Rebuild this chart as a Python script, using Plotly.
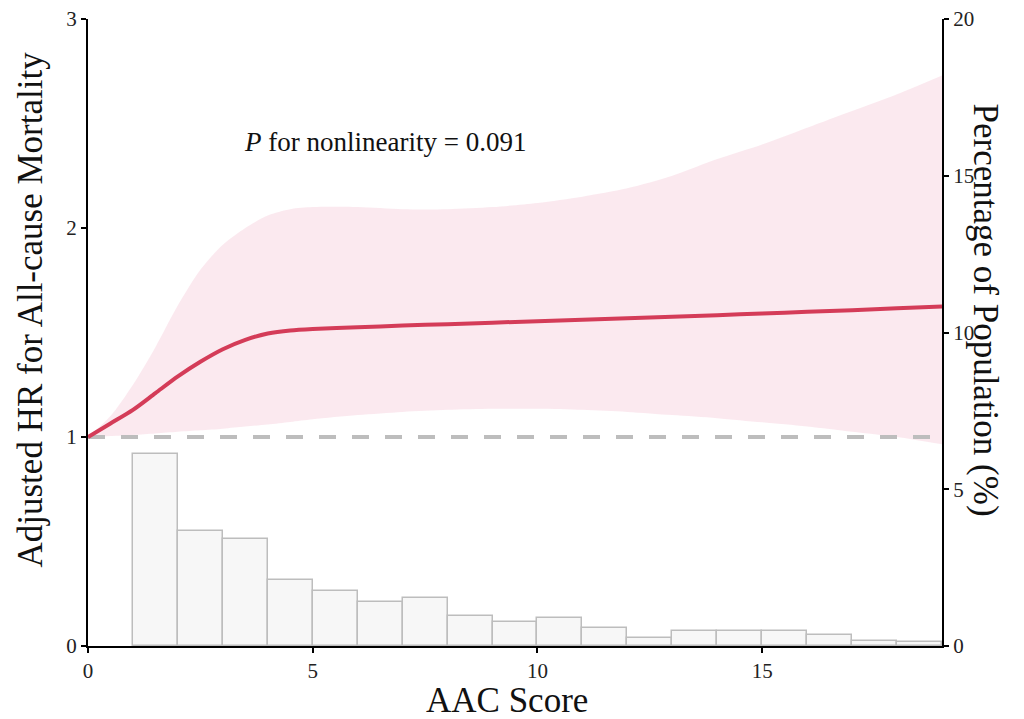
import plotly.graph_objects as go

# ---- data ----
aac = [0, 0.5, 1, 1.5, 2, 2.5, 3, 3.5, 4, 4.5, 5, 6, 7, 8, 9, 10, 11, 12, 13, 14, 15, 16, 17, 18, 19]
hr = [1.0, 1.065, 1.13, 1.21, 1.29, 1.36, 1.42, 1.465, 1.495, 1.51, 1.517, 1.525, 1.533, 1.54,
      1.547, 1.554, 1.561, 1.568, 1.575, 1.583, 1.591, 1.599, 1.607, 1.616, 1.625]
hr_upper = [1.0, 1.10, 1.25, 1.43, 1.63, 1.80, 1.92, 2.0, 2.06, 2.09, 2.10, 2.10, 2.09, 2.09,
            2.10, 2.12, 2.15, 2.19, 2.25, 2.33, 2.40, 2.48, 2.56, 2.64, 2.73]
hr_lower = [1.0, 1.005, 1.01, 1.017, 1.025, 1.032, 1.04, 1.05, 1.06, 1.072, 1.085, 1.105, 1.12, 1.13,
            1.135, 1.135, 1.13, 1.12, 1.105, 1.09, 1.07, 1.05, 1.025, 1.0, 0.965]

bin_centers = [1.5, 2.5, 3.5, 4.5, 5.5, 6.5, 7.5, 8.5, 9.5, 10.5, 11.5, 12.5, 13.5, 14.5,
               15.5, 16.5, 17.5, 18.5]
pct_population = [6.12, 3.66, 3.41, 2.10, 1.77, 1.40, 1.52, 0.97, 0.78, 0.90, 0.56, 0.27,
                  0.47, 0.47, 0.49, 0.35, 0.16, 0.13]

x_ticks = [0, 5, 10, 15]
y_ticks = [0, 1, 2, 3]
y2_ticks = [0, 5, 10, 15, 20]

FONT = "Liberation Serif"
LINE_RED = "#D43C58"
FILL_PINK = "rgba(248, 215, 225, 0.55)"
TITLE_SIZE = 35

fig = go.Figure()

# confidence band: lower bound then upper bound filled to it
fig.add_trace(go.Scatter(
    x=aac, y=hr_lower, mode="lines",
    line=dict(width=0, shape="spline", smoothing=0.8),
    hoverinfo="skip", showlegend=False))
fig.add_trace(go.Scatter(
    x=aac, y=hr_upper, mode="lines", fill="tonexty", fillcolor=FILL_PINK,
    line=dict(width=0, shape="spline", smoothing=0.8),
    hoverinfo="skip", showlegend=False))

# reference line HR = 1
fig.add_trace(go.Scatter(
    x=[0, 19], y=[1, 1], mode="lines",
    line=dict(color="#BDBDBD", width=4, dash="17px,16px"),
    showlegend=False, hoverinfo="skip"))

# HR curve
fig.add_trace(go.Scatter(
    x=aac, y=hr, mode="lines",
    line=dict(color=LINE_RED, width=4, shape="spline", smoothing=0.8),
    showlegend=False))

# histogram (right axis)
fig.add_trace(go.Bar(
    x=bin_centers, y=pct_population, width=1, yaxis="y2",
    marker=dict(color="#F7F7F7", line=dict(color="#BDBDBD", width=1.5)),
    showlegend=False))

axis_common = dict(
    showgrid=False, zeroline=False, showline=True, linecolor="black", linewidth=2,
    ticks="outside", ticklen=5, tickwidth=1.5, tickcolor="black", automargin=False,
    ticklabeloverflow="allow",
    tickfont=dict(family=FONT, size=21, color="#222"))

fig.update_layout(
    width=1024, height=719,
    margin=dict(l=80, r=90, t=11, b=81, autoexpand=False),
    paper_bgcolor="white", plot_bgcolor="white",
    font=dict(family=FONT, color="#111"),
    bargap=0,
    xaxis=dict(range=[0, 19], tickvals=x_ticks, **axis_common),
    yaxis=dict(range=[0, 3], tickvals=y_ticks, **axis_common),
    yaxis2=dict(range=[0, 20], tickvals=y2_ticks, overlaying="y", side="right", **axis_common),
)

fig.add_annotation(
    x=6.6, y=2.41, xref="x", yref="y",
    text="<i>P</i> for nonlinearity = 0.091", showarrow=False,
    font=dict(family=FONT, size=27, color="#111"))

# axis titles
fig.add_annotation(
    x=0.5, xref="paper", xshift=-8, y=0, yref="paper", yshift=-54,
    text="AAC Score", showarrow=False, xanchor="center", yanchor="middle",
    font=dict(family=FONT, size=TITLE_SIZE, color="#111"))
fig.add_annotation(
    x=0, xref="paper", xshift=-58, y=0.5, yref="paper", yshift=23,
    text="Adjusted HR for All-cause Mortality", textangle=-90, showarrow=False,
    xanchor="center", yanchor="middle",
    font=dict(family=FONT, size=TITLE_SIZE, color="#111"))
fig.add_annotation(
    x=1.0, xref="paper", xshift=43, y=0.5, yref="paper", yshift=23,
    text="Percentage of Population (%)", textangle=90, showarrow=False,
    xanchor="center", yanchor="middle",
    font=dict(family=FONT, size=TITLE_SIZE, color="#111"))

fig.write_html("out.html")
